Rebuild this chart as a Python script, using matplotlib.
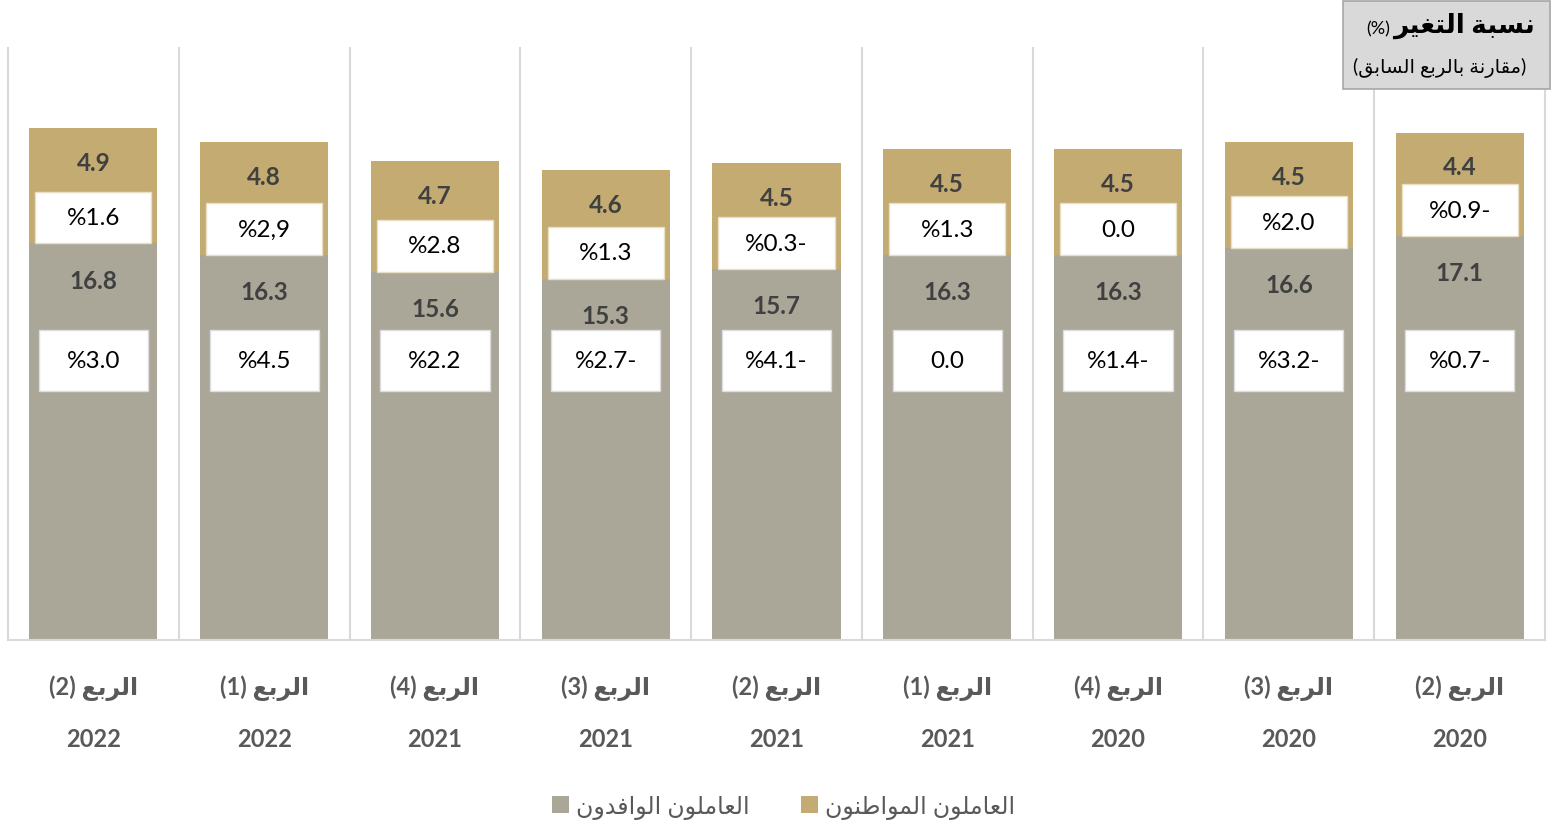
import matplotlib
matplotlib.use('Agg')
import matplotlib.pyplot as plt
from matplotlib.patches import Rectangle, Patch

# data, left to right as drawn (newest quarter on the left)
quarters = ['الربع (2)', 'الربع (1)', 'الربع (4)', 'الربع (3)', 'الربع (2)',
            'الربع (1)', 'الربع (4)', 'الربع (3)', 'الربع (2)']
years = ['2022', '2022', '2021', '2021', '2021', '2021', '2020', '2020', '2020']
expats = [16.8, 16.3, 15.6, 15.3, 15.7, 16.3, 16.3, 16.6, 17.1]
nationals = [4.9, 4.8, 4.7, 4.6, 4.5, 4.5, 4.5, 4.5, 4.4]
nat_change = ['%1.6', '%2,9', '%2.8', '%1.3', '%0.3-', '%1.3', '0.0', '%2.0', '%0.9-']
exp_change = ['%3.0', '%4.5', '%2.2', '%2.7-', '%4.1-', '0.0', '%1.4-', '%3.2-', '%0.7-']

legend_exp = 'العاملون الوافدون'
legend_nat = 'العاملون المواطنون'
title_main = 'نسبة التغير'
title_sub = '(مقارنة بالربع السابق)'

# matplotlib has no arabic shaping, so do it by hand with presentation forms
FORMS = {
    'ا': ('\ufe8d', '\ufe8e', None, None),
    'ب': ('\ufe8f', '\ufe90', '\ufe91', '\ufe92'),
    'ة': ('\ufe93', '\ufe94', None, None),
    'ت': ('\ufe95', '\ufe96', '\ufe97', '\ufe98'),
    'د': ('\ufea9', '\ufeaa', None, None),
    'ر': ('\ufead', '\ufeae', None, None),
    'س': ('\ufeb1', '\ufeb2', '\ufeb3', '\ufeb4'),
    'ط': ('\ufec1', '\ufec2', '\ufec3', '\ufec4'),
    'ع': ('\ufec9', '\ufeca', '\ufecb', '\ufecc'),
    'غ': ('\ufecd', '\ufece', '\ufecf', '\ufed0'),
    'ف': ('\ufed1', '\ufed2', '\ufed3', '\ufed4'),
    'ق': ('\ufed5', '\ufed6', '\ufed7', '\ufed8'),
    'ل': ('\ufedd', '\ufede', '\ufedf', '\ufee0'),
    'م': ('\ufee1', '\ufee2', '\ufee3', '\ufee4'),
    'ن': ('\ufee5', '\ufee6', '\ufee7', '\ufee8'),
    'و': ('\ufeed', '\ufeee', None, None),
    'ي': ('\ufef1', '\ufef2', '\ufef3', '\ufef4'),
}
MIRROR = {'(': ')', ')': '('}


def rtl(s):
    out = []
    for i, ch in enumerate(s):
        if ch not in FORMS:
            out.append(ch)
            continue
        prev = s[i - 1] if i > 0 else ''
        nxt = s[i + 1] if i + 1 < len(s) else ''
        jp = prev in FORMS and FORMS[prev][2] is not None
        jn = nxt in FORMS and FORMS[ch][2] is not None
        iso, fin, ini, med = FORMS[ch]
        if jp and jn:
            out.append(med)
        elif jp:
            out.append(fin)
        elif jn:
            out.append(ini)
        else:
            out.append(iso)
    return ''.join(MIRROR.get(c, c) for c in reversed(out))


FAM = ['Lato', 'DejaVu Sans']
plt.rcParams['font.family'] = FAM

tan = '#c3ab72'
grey = '#aaa799'
label_col = '#404040'
axis_col = '#595959'

fig = plt.figure(figsize=(15.52, 8.29), dpi=100)
ax = fig.add_axes([8 / 1552, 188 / 829, 1537 / 1552, 592 / 829])

xs = list(range(len(expats)))
ax.bar(xs, expats, width=0.75, color=grey, zorder=2)
ax.bar(xs, nationals, width=0.75, bottom=expats, color=tan, zorder=2)

ax.set_xlim(-0.5, len(xs) - 0.5)
ax.set_ylim(0, 25.08)
for k in range(len(xs) + 1):
    ax.axvline(k - 0.5, color='#d9d9d9', lw=1.5, zorder=1, clip_on=False)

for sp in ['top', 'left', 'right']:
    ax.spines[sp].set_visible(False)
ax.spines['bottom'].set_color('#d9d9d9')
ax.spines['bottom'].set_linewidth(1.5)
ax.set_yticks([])
ax.set_xticks(xs)
ax.set_xticklabels([rtl(q) + '\n' + y for q, y in zip(quarters, years)],
                   fontsize=17, fontweight='bold', color=axis_col, linespacing=2.4)
ax.tick_params(axis='x', length=0, pad=25)

for i in xs:
    e = expats[i]
    n = nationals[i]
    ax.text(i, e + n - 1.45, f'{n:.1f}', ha='center', va='center', fontsize=17.5,
            fontweight='bold', color=label_col, zorder=4)
    ax.text(i, e - 1.55, f'{e:.1f}', ha='center', va='center', fontsize=17.5,
            fontweight='bold', color=label_col, zorder=4)
    # change boxes
    cy = e + 1.1
    ax.add_patch(Rectangle((i - 0.34, cy - 1.1), 0.68, 2.2, facecolor='white',
                           edgecolor='#e8dfc6', lw=1, zorder=3))
    ax.text(i, cy, nat_change[i], ha='center', va='center', fontsize=17.5,
            color='black', zorder=4)
    ax.add_patch(Rectangle((i - 0.32, 11.85 - 1.3), 0.64, 2.6, facecolor='white',
                           edgecolor='#dcdcdc', lw=1, zorder=3))
    ax.text(i, 11.85, exp_change[i], ha='center', va='center', fontsize=17.5,
            color='black', zorder=4)

# title box top right
box = Rectangle((1343 / 1552, 1 - 90 / 829), 207 / 1552, 88 / 829,
                transform=fig.transFigure, facecolor='#d9d9d9',
                edgecolor='#a6a6a6', lw=1.2, zorder=10)
fig.add_artist(box)
t1 = fig.text(1535 / 1552, 1 - 26 / 829, rtl(title_main), ha='right', va='center',
              fontsize=19, fontweight='bold', color='black', zorder=11)
fig.canvas.draw()
bb = t1.get_window_extent()
fig.text(bb.x0 - 3, 829 - 29, '(%)', ha='right', va='center', fontsize=13,
         color='black', zorder=11, transform=None)
fig.text(1440 / 1552, 1 - 68 / 829, rtl(title_sub), ha='center', va='center',
         fontsize=14, color='black', zorder=11)

handles = [Patch(facecolor=grey, label=rtl(legend_exp)),
           Patch(facecolor=tan, label=rtl(legend_nat))]
fig.legend(handles=handles, loc='center', bbox_to_anchor=(0.505, 1 - 808 / 829),
           ncol=2, frameon=False, fontsize=17, labelcolor=axis_col,
           handlelength=0.7, handleheight=0.7, handletextpad=0.3, columnspacing=2.2)

fig.savefig('out.png', dpi=100)
